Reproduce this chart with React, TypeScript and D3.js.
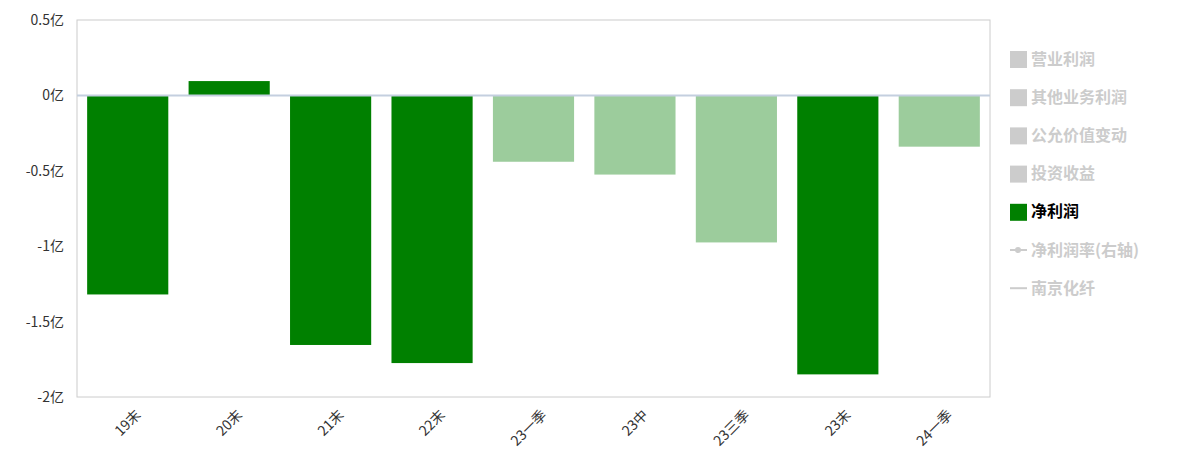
import React from "react";
import * as d3 from "d3";

const categories = ["19末", "20末", "21末", "22末", "23一季", "23中", "23三季", "23末", "24一季"];
const netProfit = [-1.32, 0.095, -1.655, -1.775, -0.44, -0.525, -0.975, -1.85, -0.34];
const isQuarter = [false, false, false, false, true, true, true, false, true];
const yTicks = [0.5, 0, -0.5, -1, -1.5, -2];
const yTickLabels = ["0.5亿", "0亿", "-0.5亿", "-1亿", "-1.5亿", "-2亿"];
const legendItems = ["营业利润", "其他业务利润", "公允价值变动", "投资收益", "净利润", "净利润率(右轴)", "南京化纤"];
const legendTypes = ["rect", "rect", "rect", "rect", "rect", "lineDot", "line"];
const legendActive = [false, false, false, false, true, false, false];

export default function App() {
  const W = 1184, H = 467;
  const left = 77, right = 990, top = 20, bottom = 397;
  const x = d3.scaleBand().domain(categories).range([left, right]).paddingInner(0.2).paddingOuter(0.1);
  const y = d3.scaleLinear().domain([-2, 0.5]).range([bottom, top]);
  const font = "'Microsoft YaHei', 'Noto Sans CJK SC', sans-serif";
  return (
    <svg width={W} height={H} style={{ position: "absolute", left: 0, top: 0 }} fontFamily={font}>
      <rect x={left} y={top} width={right - left} height={bottom - top} fill="none" stroke="#cccccc" strokeWidth={1} />
      {yTicks.map((t, i) => (
        <text key={i} x={64} y={y(t)} dy="0.35em" textAnchor="end" fontSize={14} fill="#333">{yTickLabels[i]}</text>
      ))}
      {categories.map((c, i) => {
        const v = netProfit[i];
        const y0 = y(0), y1 = y(v);
        return (
          <rect key={c} x={x(c)} y={Math.min(y0, y1)} width={x.bandwidth()} height={Math.abs(y1 - y0)}
            fill={isQuarter[i] ? "#9ccc9c" : "#008000"} />
        );
      })}
      <line x1={left} x2={right} y1={y(0)} y2={y(0)} stroke="#c4cfdf" strokeWidth={2} />
      {categories.map((c) => {
        const cx = (x(c) as number) + x.bandwidth() / 2;
        return (
          <text key={c} transform={`translate(${cx + 7},${bottom + 12}) rotate(-45)`} textAnchor="end" dy="0.7em" fontSize={14} fill="#333">{c}</text>
        );
      })}
      {legendItems.map((name, i) => {
        const ly = 59 + i * 38.2;
        const col = legendActive[i] ? "#008000" : "#cccccc";
        const tcol = legendActive[i] ? "#000" : "#cccccc";
        return (
          <g key={name}>
            {legendTypes[i] === "rect" && <rect x={1010} y={ly - 8} width={17} height={17} fill={col} />}
            {legendTypes[i] === "lineDot" && (
              <g>
                <line x1={1010} x2={1027} y1={ly} y2={ly} stroke={col} strokeWidth={2} />
                <circle cx={1018} cy={ly} r={3} fill={col} />
              </g>
            )}
            {legendTypes[i] === "line" && <line x1={1010} x2={1027} y1={ly} y2={ly} stroke={col} strokeWidth={2} />}
            <text x={1031} y={ly} dy="0.35em" fontSize={16} fontWeight="bold" fill={tcol}>{name}</text>
          </g>
        );
      })}
    </svg>
  );
}
